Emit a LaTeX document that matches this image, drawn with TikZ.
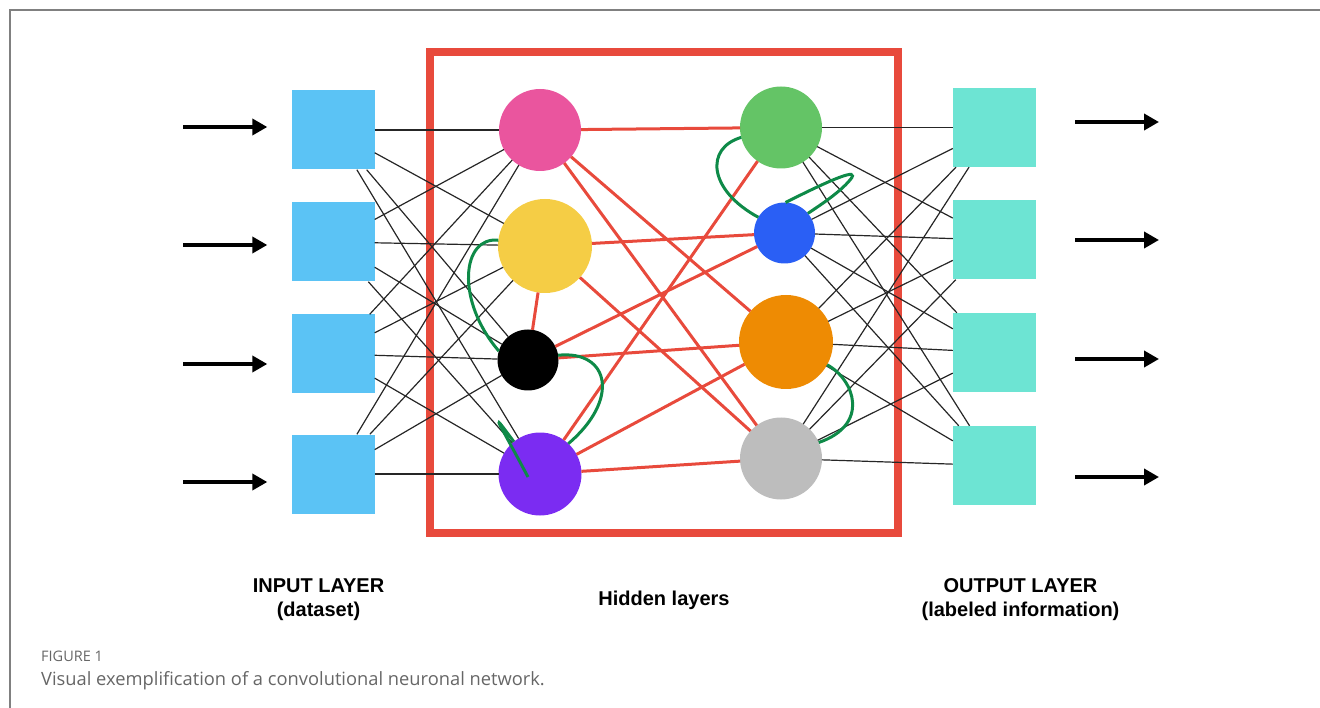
\documentclass[tikz,border=0pt]{standalone}
\usepackage{fontspec}
\newfontfamily\layerfont{Liberation Sans}
\newfontfamily\capfont{Open Sans}
\usetikzlibrary{arrows.meta,calc}
\definecolor{inblue}{HTML}{5BC3F5}
\definecolor{outcyan}{HTML}{6DE4D3}
\definecolor{boxred}{HTML}{E84A3C}
\definecolor{loopgreen}{HTML}{0E8A48}
\definecolor{npink}{HTML}{EA559E}
\definecolor{nyellow}{HTML}{F5CD45}
\definecolor{npurple}{HTML}{7B2CF2}
\definecolor{ngreen}{HTML}{64C466}
\definecolor{nblue}{HTML}{2A5FF5}
\definecolor{norange}{HTML}{EE8B03}
\definecolor{ngray}{HTML}{BDBDBD}
\definecolor{capgray}{HTML}{666666}

\begin{document}
\begin{tikzpicture}[x=1pt,y=-1pt,
  inbox/.style={fill=inblue,minimum width=83pt,minimum height=79pt,inner sep=0},
  outbox/.style={fill=outcyan,minimum width=83pt,minimum height=79pt,inner sep=0},
  neuron/.style={circle,inner sep=0,outer sep=0},
  wire/.style={draw=black!85,line width=1.2pt},
  redwire/.style={draw=boxred,line width=3pt},
  loopwire/.style={draw=loopgreen,line width=3pt},
  bigarrow/.style={line width=4pt,-{Triangle[length=15pt,width=16pt]}},
  laytext/.style={font=\layerfont\bfseries\fontsize{20}{24}\selectfont,align=center},
  captext/.style={font=\capfont,text=capgray,anchor=base west,inner sep=0}]
\useasboundingbox (0,0) rectangle (1320,708);
\draw[gray,line width=1.5pt] (10,708) -- (10,10) -- (1320,10);
\draw[boxred,line width=8pt] (430,52) rectangle (898,533);

\foreach \y [count=\i] in {130,242,354,474}
  \node[inbox] (in\i) at (333,\y) {};
\foreach \y [count=\i] in {127.5,240,352.5,465.5}
  \node[outbox] (out\i) at (994.5,\y) {};

\node[neuron,fill=npink,minimum size=82pt] (hl1) at (540,130) {};
\node[neuron,fill=nyellow,minimum size=94pt] (hl2) at (545,246) {};
\node[neuron,fill=black,minimum size=61pt] (hl3) at (528,360) {};
\node[neuron,fill=npurple,minimum size=83pt] (hl4) at (540,474) {};
\node[neuron,fill=ngreen,minimum size=82pt] (hr1) at (781,127.5) {};
\node[neuron,fill=nblue,minimum size=61pt] (hr2) at (784.5,233) {};
\node[neuron,fill=norange,minimum size=94pt] (hr3) at (786,342) {};
\node[neuron,fill=ngray,minimum size=82pt] (hr4) at (781,458.5) {};

\foreach \i in {1,...,4}
  \foreach \j in {1,...,4} {
    \draw[wire] (in\i) -- (hl\j);
    \draw[wire] (hr\i) -- (out\j);
  }

\foreach \a/\b in {hl1/hr1,hl1/hr3,hl1/hr4,hl2/hr2,hl2/hr4,hl2/hl3,hl3/hr2,hl3/hr3,hl4/hr1,hl4/hr3,hl4/hr4}
  \draw[redwire] (\a) -- (\b);

\draw[loopwire] (hr1.194) .. controls (705,148) and (708,190) .. (hr2.149);
\draw[loopwire] (hr2.88) .. controls (830,180) and (862,166) .. (850,180) .. controls (840,192) and (822,204) .. (hr2.40);
\draw[loopwire] (hl2.173) .. controls (462,236) and (455,300) .. (hl3.163);
\draw[loopwire] (hl3.9) .. controls (610,350) and (620,400) .. (hl4.47);
\draw[loopwire] ($(hl4)+(-12,3)$) .. controls (495,415) and (490,410) .. (hl4.129);
\draw[loopwire] (hr3.331) .. controls (855,380) and (870,425) .. (hr4.23);

\foreach \y [count=\i] in {127,245,364,482} {
  \coordinate (ia\i) at (183,\y);
  \draw[bigarrow,shorten >=24pt] (ia\i) -- (ia\i -| in\i.west);
}
\foreach \y [count=\i] in {122,240,359,477} {
  \coordinate (oa\i) at (1159,\y);
  \draw[bigarrow,shorten <=39pt] (oa\i -| out\i.east) -- (oa\i);
}

\node[laytext] (inlab) at (318.5,600) {INPUT LAYER\\(dataset)};
\node[laytext] (hidlab) at (664,600) {Hidden layers};
\node[laytext] (outlab) at (1020.5,600) {OUTPUT LAYER\\(labeled information)};

\node[captext,font=\capfont\fontsize{14.5}{17}\selectfont] (fig) at (41,661) {FIGURE 1};
\node[captext,font=\capfont\fontsize{18.3}{22}\selectfont] (cap) at (41,685) {Visual exemplification of a convolutional neuronal network.};
\end{tikzpicture}
\end{document}
